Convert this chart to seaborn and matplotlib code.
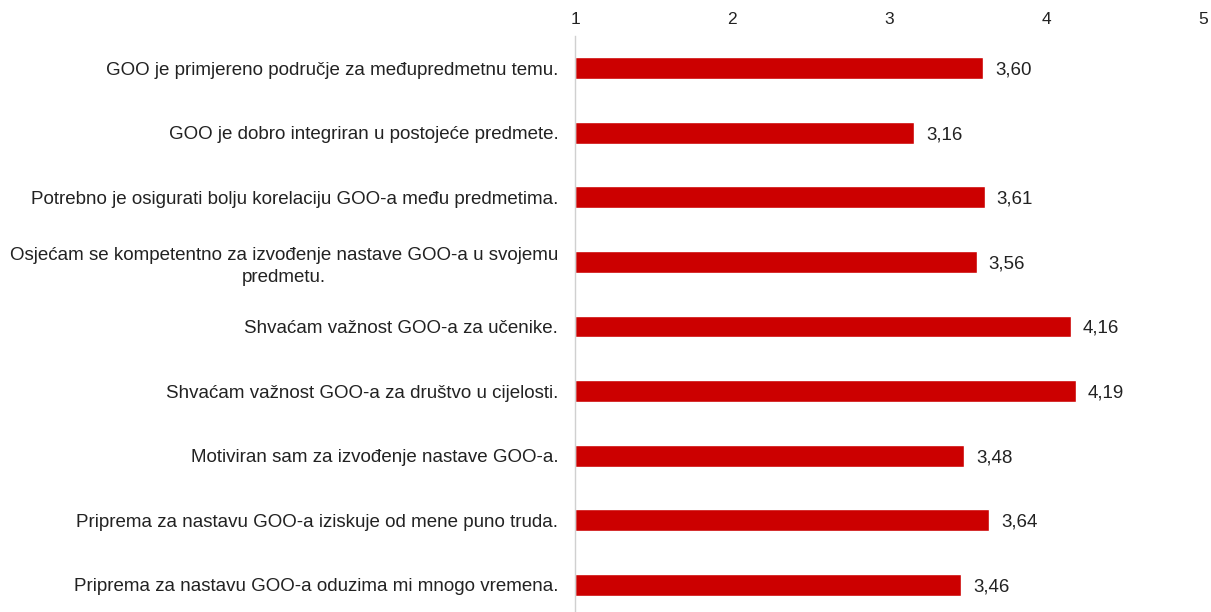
import matplotlib
matplotlib.use("Agg")
import matplotlib.pyplot as plt
import seaborn as sns
import pandas as pd

categories = [
    "GOO je primjereno područje za međupredmetnu temu.",
    "GOO je dobro integriran u postojeće predmete.",
    "Potrebno je osigurati bolju korelaciju GOO-a među predmetima.",
    "Osjećam se kompetentno za izvođenje nastave GOO-a u svojemu\npredmetu.",
    "Shvaćam važnost GOO-a za učenike.",
    "Shvaćam važnost GOO-a za društvo u cijelosti.",
    "Motiviran sam za izvođenje nastave GOO-a.",
    "Priprema za nastavu GOO-a iziskuje od mene puno truda.",
    "Priprema za nastavu GOO-a oduzima mi mnogo vremena.",
]
values = [3.60, 3.16, 3.61, 3.56, 4.16, 4.19, 3.48, 3.64, 3.46]
x_ticks = [1, 2, 3, 4, 5]

df = pd.DataFrame({"cat": categories, "val": values})

sns.set_theme(style="white")
plt.rcParams["font.family"] = ["Liberation Sans", "DejaVu Sans"]

fig = plt.figure(figsize=(12.11, 6.12), dpi=100)
ax = fig.add_axes([575 / 1211, -5 / 612, (1203 - 575) / 1211, (612 - 36 + 5) / 612])

sns.barplot(data=df, y="cat", x="val", orient="h", color="#cc0000",
            saturation=1, width=0.34, ax=ax)
for p in ax.patches:
    x0 = p.get_x()
    p.set_x(1)
    p.set_width(p.get_width() + x0 - 1)

ax.set_xlim(1, 5)
ax.set_ylim(8.5, -0.5)
ax.set_xticks(x_ticks)
ax.set_xticklabels([str(t) for t in x_ticks])
ax.xaxis.tick_top()
ax.tick_params(axis="x", length=0, pad=6.5, labelsize=12.5, colors="#222222")
ax.set_yticks(range(len(categories)))
ax.set_yticklabels(categories, multialignment="center", linespacing=1.4)
ax.tick_params(axis="y", length=0, pad=12, labelsize=13.5, colors="#222222")
ax.set_xlabel("")
ax.set_ylabel("")
for s in ["top", "right", "bottom"]:
    ax.spines[s].set_visible(False)
ax.spines["left"].set_color("#d0d0d0")
ax.spines["left"].set_linewidth(1)

for i, v in enumerate(values):
    ax.text(v + 0.075, i + 0.03, f"{v:.2f}".replace(".", ","), va="center", ha="left",
            fontsize=13.5, color="#222222")

fig.savefig("out.png", dpi=100)
